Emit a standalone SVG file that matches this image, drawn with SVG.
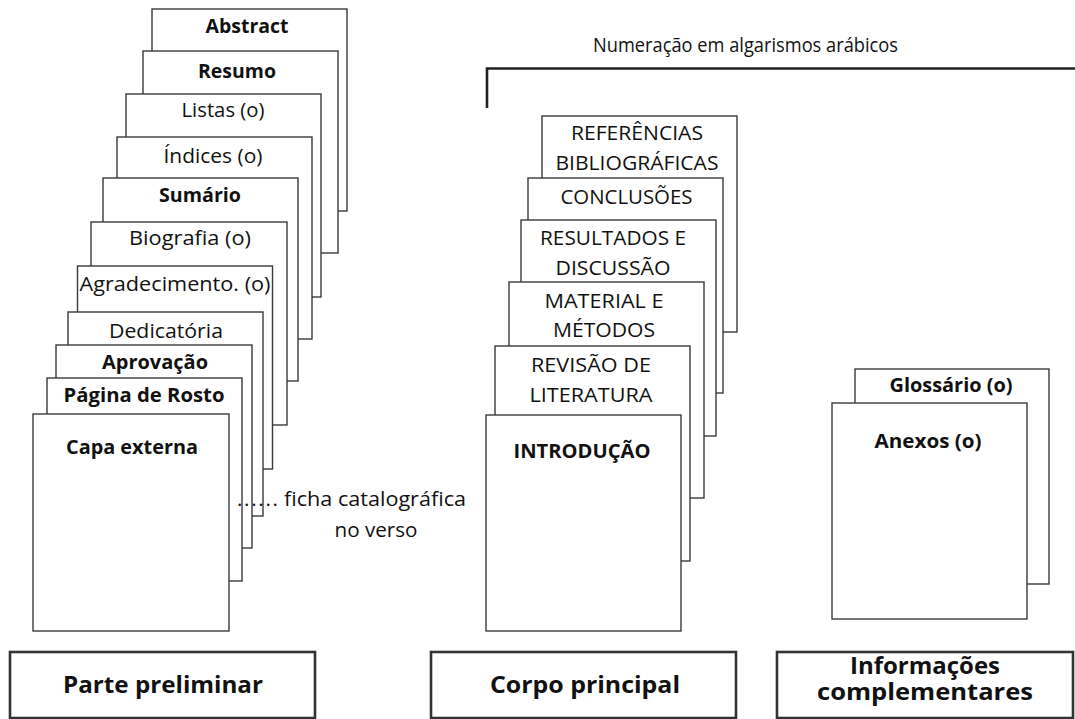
<svg xmlns="http://www.w3.org/2000/svg" width="1075" height="719" viewBox="0 0 1075 719">
<style>
.pg{fill:#fff;stroke:#3a3a3a;stroke-width:1.4}
.big{fill:#fff;stroke:#333;stroke-width:2.6}
.t{font-family:"Open Sans","Noto Sans",sans-serif;font-size:20.5px;fill:#111;text-anchor:middle}
.b{font-family:"Open Sans","Noto Sans",sans-serif;font-size:20px;font-weight:bold;fill:#111;text-anchor:middle}
.h{font-family:"Open Sans","Noto Sans",sans-serif;font-size:24px;font-weight:bold;fill:#111;text-anchor:middle}
</style>
<rect width="1075" height="719" fill="#fff"/>
<g id="connectors">
<path d="M487,108 V68.5 H1075" fill="none" stroke="#222" stroke-width="2.6"/>
</g>
<text class="t" x="745.5" y="52" style="font-size:20px" textLength="305" lengthAdjust="spacingAndGlyphs">Numeração em algarismos arábicos</text>

<g id="abstract"><rect class="pg" x="152" y="9" width="195" height="202"/><text class="b" x="247" y="33" textLength="83" lengthAdjust="spacingAndGlyphs">Abstract</text></g>
<g id="resumo"><rect class="pg" x="143" y="51" width="195" height="202"/><text class="b" x="237" y="78" textLength="78" lengthAdjust="spacingAndGlyphs">Resumo</text></g>
<g id="listas"><rect class="pg" x="126" y="94" width="195" height="203"/><text class="t" x="223" y="117" textLength="83" lengthAdjust="spacingAndGlyphs">Listas (o)</text></g>
<g id="indices"><rect class="pg" x="117" y="137" width="195" height="202"/><text class="t" x="213" y="163" textLength="99" lengthAdjust="spacingAndGlyphs">Índices (o)</text></g>
<g id="sumario"><rect class="pg" x="103" y="178" width="195" height="203"/><text class="b" x="200" y="202" textLength="82" lengthAdjust="spacingAndGlyphs">Sumário</text></g>
<g id="biografia"><rect class="pg" x="91" y="222" width="196" height="203"/><text class="t" x="190" y="245" textLength="122" lengthAdjust="spacingAndGlyphs">Biografia (o)</text></g>
<g id="agradecimento"><rect class="pg" x="77.5" y="266" width="195" height="203"/><text class="t" x="175" y="291" textLength="191" lengthAdjust="spacingAndGlyphs">Agradecimento. (o)</text></g>
<g id="dedicatoria"><rect class="pg" x="68" y="312" width="195" height="204"/><text class="t" x="166" y="338" textLength="114" lengthAdjust="spacingAndGlyphs">Dedicatória</text></g>
<g id="aprovacao"><rect class="pg" x="56" y="345" width="196" height="203"/><text class="b" x="155" y="369" textLength="106" lengthAdjust="spacingAndGlyphs">Aprovação</text></g>
<g id="rosto"><rect class="pg" x="47" y="378" width="195" height="203"/><text class="b" x="144" y="402" textLength="161" lengthAdjust="spacingAndGlyphs">Página de Rosto</text></g>
<g id="capa"><rect class="pg" x="33" y="414" width="196" height="217"/><text class="b" x="132" y="454" textLength="132" lengthAdjust="spacingAndGlyphs">Capa externa</text></g>
<g id="ficha">
<text class="t" x="237" y="506" style="text-anchor:start" textLength="41" lengthAdjust="spacing">......</text>
<text class="t" x="284" y="506" style="text-anchor:start" textLength="182" lengthAdjust="spacingAndGlyphs">ficha catalográfica</text>
<text class="t" x="376" y="537" textLength="83" lengthAdjust="spacingAndGlyphs">no verso</text>
</g>

<g id="referencias"><rect class="pg" x="542" y="116" width="195" height="216"/><text class="t" x="637" y="140" textLength="132" lengthAdjust="spacingAndGlyphs">REFERÊNCIAS</text><text class="t" x="637" y="170" textLength="163" lengthAdjust="spacingAndGlyphs">BIBLIOGRÁFICAS</text></g>
<g id="conclusoes"><rect class="pg" x="528" y="178" width="195" height="215"/><text class="t" x="626.5" y="204" textLength="132" lengthAdjust="spacingAndGlyphs">CONCLUSÕES</text></g>
<g id="resultados"><rect class="pg" x="521" y="220" width="195" height="216"/><text class="t" x="613" y="245" textLength="146" lengthAdjust="spacingAndGlyphs">RESULTADOS E</text><text class="t" x="613" y="275" textLength="115" lengthAdjust="spacingAndGlyphs">DISCUSSÃO</text></g>
<g id="material"><rect class="pg" x="509" y="282" width="195" height="216"/><text class="t" x="604" y="308" textLength="119" lengthAdjust="spacingAndGlyphs">MATERIAL E</text><text class="t" x="604" y="337" textLength="102" lengthAdjust="spacingAndGlyphs">MÉTODOS</text></g>
<g id="revisao"><rect class="pg" x="495" y="346" width="195" height="215"/><text class="t" x="591" y="372" textLength="120" lengthAdjust="spacingAndGlyphs">REVISÃO DE</text><text class="t" x="591" y="402" textLength="123" lengthAdjust="spacingAndGlyphs">LITERATURA</text></g>
<g id="introducao"><rect class="pg" x="486" y="415" width="195" height="216"/><text class="b" x="582" y="458" textLength="137" lengthAdjust="spacingAndGlyphs">INTRODUÇÃO</text></g>

<g id="glossario"><rect class="pg" x="855" y="369" width="194" height="215"/><text class="b" x="951" y="392" textLength="123" lengthAdjust="spacingAndGlyphs">Glossário (o)</text></g>
<g id="anexos"><rect class="pg" x="832" y="403" width="195" height="216"/><text class="b" x="928" y="448" textLength="107" lengthAdjust="spacingAndGlyphs">Anexos (o)</text></g>

<g id="parte-preliminar"><rect class="big" x="10" y="652" width="305" height="66"/><text class="h" x="163" y="693" textLength="200" lengthAdjust="spacingAndGlyphs">Parte preliminar</text></g>
<g id="corpo-principal"><rect class="big" x="431" y="652" width="305" height="66"/><text class="h" x="585" y="693" textLength="190" lengthAdjust="spacingAndGlyphs">Corpo principal</text></g>
<g id="informacoes"><rect class="big" x="777" y="652" width="296" height="66"/><text class="h"><tspan x="925" y="674" textLength="150" lengthAdjust="spacingAndGlyphs">Informações</tspan><tspan x="925" y="700" textLength="216" lengthAdjust="spacingAndGlyphs">complementares</tspan></text></g>
</svg>
